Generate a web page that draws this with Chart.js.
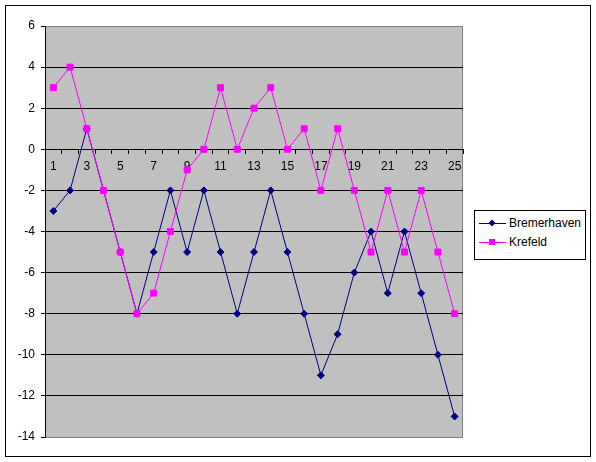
<!DOCTYPE html>
<html>
<head>
<meta charset="utf-8">
<script src="https://cdn.jsdelivr.net/npm/chart.js@4/dist/chart.umd.min.js"></script>
<style>
  body { margin: 0; background: #fff; font-family: "Liberation Sans", Arial, sans-serif; }
  #wrap { position: relative; width: 596px; height: 462px; }
  #frame { position: absolute; left: 5px; top: 5px; width: 584px; height: 450px; border: 1px solid #000; }
  #chart { position: absolute; left: 0; top: 0; }
  #legend { position: absolute; left: 474px; top: 210px; width: 110px; height: 48px; border: 1px solid #000; background: #fff; }
  .item { position: absolute; left: 4px; height: 14px; font-size: 12px; line-height: 14px; color: #000; white-space: nowrap; }
  .item svg { position: absolute; left: 0; top: 0; }
  .item span { position: absolute; left: 30px; top: 0; }
</style>
</head>
<body>
<div id="wrap">
  <div id="frame"></div>
  <canvas id="chart" width="596" height="462"></canvas>
  <div id="legend"></div>
</div>
<script>
const categories = ['1','2','3','4','5','6','7','8','9','10','11','12','13','14','15','16','17','18','19','20','21','22','23','24','25'];
const bremerhaven = [-3, -2, 1, -2, -5, -8, -5, -2, -5, -2, -5, -8, -5, -2, -5, -8, -11, -9, -6, -4, -7, -4, -7, -10, -13];
const krefeld = [3, 4, 1, -2, -5, -8, -7, -4, -1, 0, 3, 0, 2, 3, 0, 1, -2, 1, -2, -5, -2, -5, -2, -5, -8];
const yMin = -14, yMax = 6, yStep = 2;

// grey plot area with a darker frame, like the old spreadsheet look
const plotBg = {
  id: 'plotBg',
  beforeDraw(chart) {
    const { ctx, chartArea: a } = chart;
    ctx.save();
    ctx.fillStyle = '#c0c0c0';
    ctx.fillRect(a.left, a.top, a.right - a.left, a.bottom - a.top);
    ctx.strokeStyle = '#808080';
    ctx.lineWidth = 1;
    ctx.strokeRect(Math.round(a.left) + 0.5, Math.round(a.top) + 0.5, Math.round(a.right - a.left) - 1, Math.round(a.bottom - a.top));
    ctx.restore();
  }
};

const series = [
  { label: 'Bremerhaven', data: bremerhaven, color: '#000080', style: 'rectRot', radius: 3.5, order: 1 },
  { label: 'Krefeld', data: krefeld, color: '#ff00ff', style: 'rect', radius: 4.2, order: 0 }
];

new Chart(document.getElementById('chart'), {
  type: 'line',
  data: {
    labels: categories,
    datasets: series.map(s => ({
      label: s.label,
      data: s.data,
      borderColor: s.color,
      backgroundColor: s.color,
      borderWidth: 1,
      pointStyle: s.style,
      pointRadius: s.radius,
      pointBorderWidth: 1,
      pointBackgroundColor: s.color,
      pointBorderColor: s.color,
      tension: 0,
      order: s.order
    }))
  },
  options: {
    responsive: false,
    animation: false,
    layout: { padding: { left: 5, top: 26, right: 133, bottom: 25 } },
    scales: {
      x: {
        type: 'category',
        position: { y: 0 },
        offset: true,
        grid: { drawOnChartArea: false, drawTicks: true, tickLength: 4, color: '#000', offset: true },
        border: { color: '#000', width: 1 },
        ticks: {
          autoSkip: false,
          maxRotation: 0,
          padding: 6,
          color: '#000',
          font: { family: 'Liberation Sans', size: 12 },
          callback: (v, i) => i % 2 === 0 ? categories[i] : ''
        }
      },
      y: {
        min: yMin,
        max: yMax,
        afterFit(scale) { scale.width = 40; },
        grid: {
          color: ctx => (ctx.tick && (ctx.tick.value === yMax || ctx.tick.value === yMin)) ? 'rgba(0,0,0,0)' : '#000',
          tickColor: '#000',
          tickLength: 4
        },
        border: { color: '#000', width: 1 },
        ticks: {
          stepSize: yStep,
          padding: 6,
          color: '#000',
          font: { family: 'Liberation Sans', size: 12 },
          callback: v => String(v)
        }
      }
    },
    plugins: {
      legend: { display: false },
      tooltip: { enabled: false }
    }
  },
  plugins: [plotBg]
});

// legend box on the right
const legend = document.getElementById('legend');
series.forEach((s, i) => {
  const item = document.createElement('div');
  item.className = 'item';
  item.style.top = (5 + i * 19) + 'px';
  const marker = s.style === 'rect'
    ? '<rect x="10" y="4" width="6" height="6" fill="' + s.color + '"/>'
    : '<polygon points="13,3.5 16.5,7 13,10.5 9.5,7" fill="' + s.color + '"/>';
  item.innerHTML = '<svg width="28" height="14"><line x1="0" y1="7.5" x2="27" y2="7.5" stroke="' + s.color + '" stroke-width="1"/>' + marker + '</svg><span>' + s.label + '</span>';
  legend.appendChild(item);
});
</script>
</body>
</html>
